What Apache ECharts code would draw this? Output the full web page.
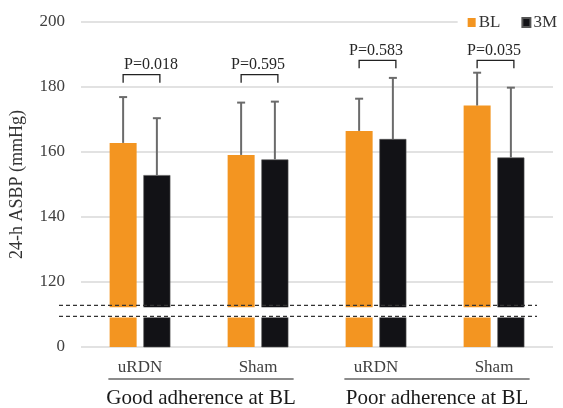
<!DOCTYPE html>
<html>
<head>
<meta charset="utf-8">
<script src="https://cdn.jsdelivr.net/npm/echarts@6/dist/echarts.min.js"></script>
<style>
  html, body { margin: 0; padding: 0; background: #fff; }
  #chart { width: 563px; height: 408px; }
</style>
</head>
<body>
<div id="chart"></div>
<script>
// data
var categories = ['uRDN', 'Sham', 'uRDN', 'Sham'];
var groups     = ['Good adherence at BL', 'Poor adherence at BL'];
var groupCats  = [[0, 1], [2, 3]];
var blMean     = [162.8, 159.1, 166.5, 174.3];
var blUpper    = [176.9, 175.2, 176.4, 184.4];
var m3Mean     = [152.9, 157.7, 164.0, 158.3];
var m3Upper    = [170.4, 175.5, 182.8, 179.8];
var pLabels    = ['P=0.018', 'P=0.595', 'P=0.583', 'P=0.035'];
var pBracketY  = [183.8, 183.8, 188.2, 188.2];
var yTickValues = [100, 120, 140, 160, 180, 200];
var yTickLabels = ['0', '120', '140', '160', '180', '200'];
var breakGap   = [109.1, 112.2];
var breakLines = [109.4, 112.8];

// layout
var FONT = 'Liberation Serif';
var BAR_W = 27;
var BAR_GAP = 0.25;
var ERR_COLOR = '#6b6b6b';
var P_TEXT_DX = [11, 0, 0, 0];

var barOffset = (BAR_W + BAR_W * BAR_GAP) / 2;

var errData = [];
for (var i = 0; i < categories.length; i++) {
    errData.push([i, blMean[i], blUpper[i], -1]);
    errData.push([i, m3Mean[i], m3Upper[i], 1]);
}
var pData = pLabels.map(function (p, i) { return [i, pBracketY[i]]; });
var groupData = groupCats.map(function (g) { return [g[0], g[1]]; });

function renderErr(params, api) {
    var p0 = api.coord([api.value(0), api.value(1)]);
    var p1 = api.coord([api.value(0), api.value(2)]);
    var x = p0[0] + api.value(3) * barOffset;
    var st = { stroke: ERR_COLOR, lineWidth: 2 };
    return {
        type: 'group',
        children: [
            { type: 'line', shape: { x1: x, y1: p0[1], x2: x, y2: p1[1] }, style: st },
            { type: 'line', shape: { x1: x - 4, y1: p1[1], x2: x + 4, y2: p1[1] }, style: st }
        ]
    };
}

function renderP(params, api) {
    var idx = params.dataIndex;
    var c = api.coord([api.value(0), api.value(1)]);
    var x1 = c[0] - barOffset, x2 = c[0] + barOffset + 3, y = c[1];
    return {
        type: 'group',
        children: [
            { type: 'polyline', shape: { points: [[x1, y + 8], [x1, y], [x2, y], [x2, y + 8]] },
              style: { stroke: '#222', lineWidth: 1.3, fill: null } },
            { type: 'text', x: c[0] + P_TEXT_DX[idx], y: y - 2,
              style: { text: pLabels[idx], fill: '#262626', font: '16px "' + FONT + '"',
                       textAlign: 'center', textVerticalAlign: 'bottom' } }
        ]
    };
}

function renderGroup(params, api) {
    var a = api.coord([api.value(0), 100]);
    var b = api.coord([api.value(1), 100]);
    var bw = api.size([1, 0])[0];
    var mid = (a[0] + b[0]) / 2 + 2;
    var half = bw * 0.785;
    return {
        type: 'group',
        children: [
            { type: 'line', shape: { x1: mid - half, y1: a[1] + 32, x2: mid + half, y2: a[1] + 32 },
              style: { stroke: '#8c8c8c', lineWidth: 2 } },
            { type: 'text', x: mid, y: a[1] + 51,
              style: { text: groups[params.dataIndex], fill: '#1a1a1a', font: '21px "' + FONT + '"',
                       textAlign: 'center', textVerticalAlign: 'middle' } }
        ]
    };
}

function renderBreak(params, api) {
    var cs = params.coordSys;
    var g0 = api.coord([0, breakGap[0]])[1];
    var g1 = api.coord([0, breakGap[1]])[1];
    var l0 = api.coord([0, breakLines[0]])[1];
    var l1 = api.coord([0, breakLines[1]])[1];
    var xs = cs.x - 22, xe = cs.x + cs.width - 16;
    var dash = { stroke: '#333', lineWidth: 1.2, lineDash: [4, 3] };
    return {
        type: 'group',
        children: [
            { type: 'rect', shape: { x: cs.x, y: g1, width: cs.width, height: g0 - g1 }, style: { fill: '#fff' } },
            { type: 'line', shape: { x1: xs, y1: l0, x2: xe, y2: l0 }, style: dash },
            { type: 'line', shape: { x1: xs, y1: l1, x2: xe, y2: l1 }, style: dash }
        ]
    };
}

var myChart = echarts.init(document.getElementById('chart'));
myChart.setOption({
    animation: false,
    backgroundColor: '#fff',
    textStyle: { fontFamily: FONT },
    grid: { left: 77, right: 10, top: 22, bottom: 61 },
    legend: {
        data: ['BL', '3M'],
        right: 4, top: 12,
        icon: 'rect', itemWidth: 8, itemHeight: 9, itemGap: 21,
        backgroundColor: '#fff',
        padding: [2, 2, 2, 10],
        textStyle: { fontSize: 17, color: '#333', fontFamily: FONT, padding: [0, 0, 0, -2] }
    },
    xAxis: {
        type: 'category',
        data: categories,
        axisLine: { show: false },
        axisTick: { show: false },
        axisLabel: { fontSize: 17, color: '#404040', margin: 12, fontFamily: FONT }
    },
    yAxis: {
        type: 'value',
        min: 100, max: 200, interval: 20,
        name: '24-h ASBP (mmHg)',
        nameLocation: 'middle',
        nameGap: 55,
        nameTextStyle: { fontSize: 18, color: '#333', fontFamily: FONT },
        axisLine: { show: false },
        axisTick: { show: false },
        axisLabel: {
            fontSize: 17, color: '#404040', margin: 16, fontFamily: FONT,
            formatter: function (v) {
                var k = yTickValues.indexOf(v);
                return k >= 0 ? yTickLabels[k] : '';
            }
        },
        splitLine: { lineStyle: { color: '#d9d9d9', width: 1.5 } }
    },
    series: [
        { name: 'BL', type: 'bar', data: blMean, barWidth: BAR_W, barGap: (BAR_GAP * 100) + '%',
          itemStyle: { color: '#f39521' } },
        { name: '3M', type: 'bar', data: m3Mean, barWidth: BAR_W,
          itemStyle: { color: '#121216', borderColor: '#555', borderWidth: 0.6 } },
        { name: 'err', type: 'custom', data: errData, renderItem: renderErr, z: 3 },
        { name: 'break', type: 'custom', data: [[0, breakGap[0]]], renderItem: renderBreak, z: 4, clip: false },
        { name: 'p', type: 'custom', data: pData, renderItem: renderP, z: 3, clip: false },
        { name: 'groups', type: 'custom', data: groupData, renderItem: renderGroup, z: 3, clip: false }
    ]
});
</script>
</body>
</html>
